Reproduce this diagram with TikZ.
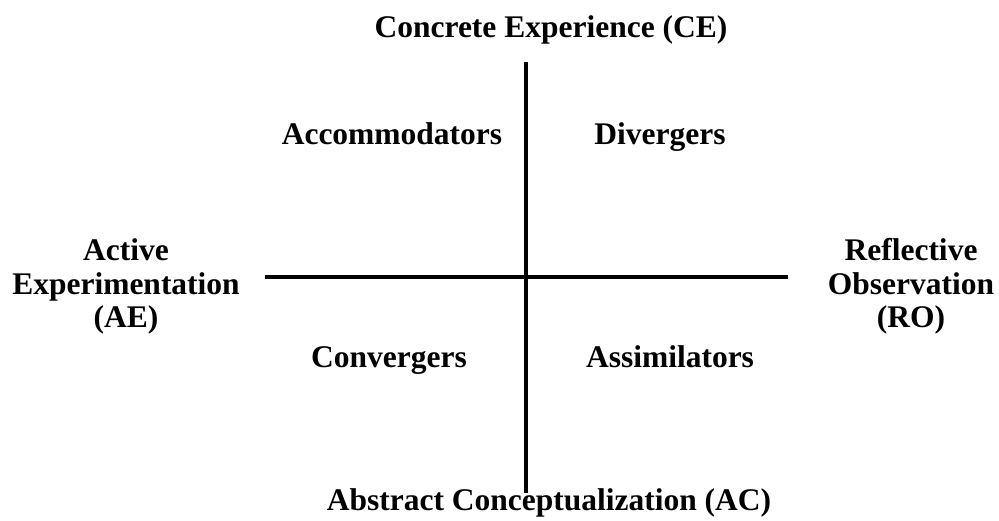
\documentclass[tikz,border=0pt]{standalone}
\usepackage{fontspec}
\setmainfont{Liberation Serif}
\begin{document}
\begin{tikzpicture}[x=1pt,y=-1pt,
  lbl/.style={font=\fontsize{31.5}{33.5}\selectfont\bfseries, inner sep=0pt, anchor=base, align=center},
  axis/.style={line width=4pt, black}]
  \useasboundingbox (0,0) rectangle (999,521);
  % axis end points
  \coordinate (top) at (526,62);
  \coordinate (bot) at (526,493);
  \coordinate (lft) at (265,277);
  \coordinate (rgt) at (788,277);
  \draw[axis] (top) -- (bot);
  \draw[axis] (lft) -- (rgt);
  % poles
  \node[lbl] (ce) at (551,38) {Concrete Experience (CE)};
  \node[lbl] (ac) at (549,510) {Abstract Conceptualization (AC)};
  \node[lbl] (ae) at (126,328) {Active\\Experimentation\\(AE)};
  \node[lbl] (ro) at (911,328) {Reflective\\Observation\\(RO)};
  % quadrants
  \node[lbl] (acc) at (392,145) {Accommodators};
  \node[lbl] (div) at (660,145) {Divergers};
  \node[lbl] (con) at (389,367) {Convergers};
  \node[lbl] (ass) at (670,367) {Assimilators};
\end{tikzpicture}
\end{document}
